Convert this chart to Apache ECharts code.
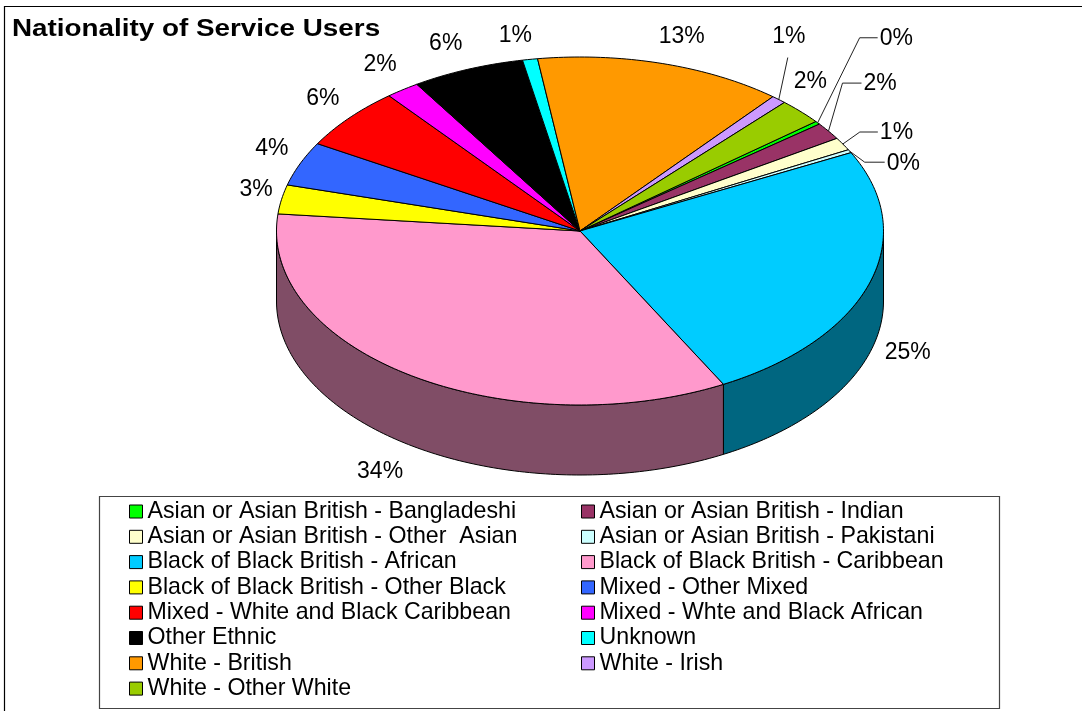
<!DOCTYPE html>
<html>
<head>
<meta charset="utf-8">
<title>Nationality of Service Users</title>
<script src="https://cdn.jsdelivr.net/npm/echarts@6/dist/echarts.min.js"></script>
<style>
  html, body { margin: 0; padding: 0; background: #fff; }
  #chart { width: 1082px; height: 711px; }
</style>
</head>
<body>
<div id="chart"></div>
<script>
// Service users by ethnic group (share of all users, %)
const categories = [
  'Asian or Asian British - Bangladeshi',
  'Asian or Asian British - Indian',
  'Asian or Asian British - Other  Asian',
  'Asian or Asian British - Pakistani',
  'Black of Black British - African',
  'Black of Black British - Caribbean',
  'Black of Black British - Other Black',
  'Mixed - Other Mixed',
  'Mixed - White and Black Caribbean',
  'Mixed - Whte and Black African',
  'Other Ethnic',
  'Unknown',
  'White - British',
  'White - Irish',
  'White - Other White'
];
const shares = [0.3, 1.6, 1.2, 0.3, 24.6, 34.4, 2.7, 4.1, 5.8, 1.8, 6.0, 0.8, 13.2, 0.8, 2.4];
const sliceColors = [
  '#00FF00', '#993366', '#FFFFCC', '#CCFFFF', '#00CCFF', '#FF99CC', '#FFFF00', '#3366FF',
  '#FF0000', '#FF00FF', '#000000', '#00FFFF', '#FF9900', '#CC99FF', '#99CC00'
];
const chartTitle = 'Nationality of Service Users';

// ---- layout of the tilted pie ----
const FONT = '"Liberation Sans", Arial, Helvetica, sans-serif';
const pie = { cx: 580, cy: 231, rx: 303.5, ry: 174, depth: 70, startAngle: 51 };
// label placement per slice: nudge from the automatic spot, or a leader line
const labelPlacement = [
  { leader: [42, -85, 18] },
  { leader: [14, -48, 19] },
  { leader: [17, -12, 18] },
  { leader: [15, 11, 20] },
  { nudge: [5, -8] },
  { nudge: [-12, 5] },
  { nudge: [9, -5] },
  { nudge: [4, -5] },
  { nudge: [0, -3] },
  { nudge: [-2, -5] },
  { nudge: [-9, -2] },
  { nudge: [-9, 1] },
  { nudge: [10, -3] },
  { above: [9, -42] },
  { nudge: [-16, -13] }
];

const total = shares.reduce((a, b) => a + b, 0);
const starts = [];
shares.reduce((acc, v) => { starts.push(acc); return acc + v; }, 0);

// angle measured clockwise from 12 o'clock on the untilted disc
function pt(theta, dy, rx, ry) {
  const r = theta * Math.PI / 180;
  return [pie.cx + (rx || pie.rx) * Math.sin(r), pie.cy - (ry || pie.ry) * Math.cos(r) + (dy || 0)];
}
function arc(a0, a1, dy) {
  const n = Math.max(2, Math.ceil(Math.abs(a1 - a0)));
  const pts = [];
  for (let i = 0; i <= n; i++) pts.push(pt(a0 + (a1 - a0) * i / n, dy));
  return pts;
}
function shade(hex, f) {
  const n = parseInt(hex.slice(1), 16);
  const c = [(n >> 16) & 255, (n >> 8) & 255, n & 255].map(v => Math.round(v * f));
  return 'rgb(' + c.join(',') + ')';
}

function renderSlice(i) {
  return function (params, api) {
    const v = api.value(0);
    const a0 = pie.startAngle + starts[i] / total * 360;
    const a1 = a0 + v / total * 360;
    const mid = (a0 + a1) / 2;
    const color = sliceColors[i];
    const children = [];

    // outer wall, only on the front half of the disc
    [[90, 270], [450, 630]].forEach(([lo, hi]) => {
      const s = Math.max(a0, lo), e = Math.min(a1, hi);
      if (e > s) {
        children.push({
          type: 'polygon', z2: 1,
          shape: { points: arc(s, e, 0).concat(arc(e, s, pie.depth)) },
          style: { fill: shade(color, 0.5), stroke: '#000', lineWidth: 1, lineJoin: 'round' }
        });
      }
    });

    // top face
    children.push({
      type: 'polygon', z2: 10,
      shape: { points: [[pie.cx, pie.cy]].concat(arc(a0, a1, 0)) },
      style: { fill: color, stroke: '#000', lineWidth: 1, lineJoin: 'round' }
    });

    // percentage label
    const text = Math.round(v / total * 100) + '%';
    const font = '23px ' + FONT;
    const place = labelPlacement[i];
    if (place.leader) {
      const [ex, ey, len] = place.leader;
      const p0 = pt(mid, 0);
      const p1 = [p0[0] + ex, p0[1] + ey];
      const p2 = [p1[0] + len, p1[1]];
      children.push({
        type: 'polyline', z2: 20,
        shape: { points: [p0, p1, p2] },
        style: { stroke: '#222', lineWidth: 1, fill: null }
      });
      children.push({
        type: 'text', z2: 20,
        style: { text, x: p2[0] + 2, y: p2[1] + 1, font, fill: '#000', align: 'left', verticalAlign: 'middle' }
      });
    } else if (place.above) {
      const [ex, ey] = place.above;
      const p0 = pt(mid, 0);
      const p1 = [p0[0] + ex, p0[1] + ey];
      children.push({
        type: 'polyline', z2: 20,
        shape: { points: [p0, p1] },
        style: { stroke: '#222', lineWidth: 1, fill: null }
      });
      children.push({
        type: 'text', z2: 20,
        style: { text, x: p1[0] + 1, y: p1[1] - 21, font, fill: '#000', align: 'center', verticalAlign: 'middle' }
      });
    } else {
      const front = Math.cos(mid * Math.PI / 180) < 0 ? pie.depth : 0;
      const p = pt(mid, front, pie.rx + 35, pie.ry + 25);
      children.push({
        type: 'text', z2: 20,
        style: { text, x: p[0] + place.nudge[0], y: p[1] + place.nudge[1], font, fill: '#000', align: 'center', verticalAlign: 'middle' }
      });
    }
    return { type: 'group', children };
  };
}

const legendCommon = {
  orient: 'vertical',
  top: 499,
  padding: 0,
  itemGap: 0.3,
  itemWidth: 13,
  itemHeight: 13,
  icon: 'rect',
  selectedMode: false,
  itemStyle: { borderColor: '#000', borderWidth: 1 },
  textStyle: { fontFamily: FONT, fontSize: 23.2, color: '#000', lineHeight: 25 }
};

const chart = echarts.init(document.getElementById('chart'), null, { renderer: 'canvas' });
chart.setOption({
  backgroundColor: '#fff',
  animation: false,
  legend: [
    Object.assign({}, legendCommon, { left: 129, data: categories.filter((_, i) => i % 2 === 0) }),
    Object.assign({}, legendCommon, { left: 581, data: categories.filter((_, i) => i % 2 === 1) })
  ],
  graphic: [
    {
      type: 'rect', z: 0, silent: true,
      shape: { x: 4.5, y: 6.5, width: 1100, height: 800 },
      style: { fill: null, stroke: '#000', lineWidth: 1.2 }
    },
    {
      type: 'rect', z: 0, silent: true,
      shape: { x: 99.5, y: 496.5, width: 900, height: 212 },
      style: { fill: null, stroke: '#444', lineWidth: 1.2 }
    },
    {
      type: 'text', x: 12, y: 30, scaleX: 1.21, silent: true,
      style: { text: chartTitle, font: 'bold 23px ' + FONT, fill: '#000', verticalAlign: 'middle' }
    }
  ],
  series: categories.map((name, i) => ({
    type: 'custom',
    name,
    coordinateSystem: 'none',
    silent: true,
    itemStyle: { color: sliceColors[i] },
    renderItem: renderSlice(i),
    data: [shares[i]]
  }))
});
</script>
</body>
</html>
